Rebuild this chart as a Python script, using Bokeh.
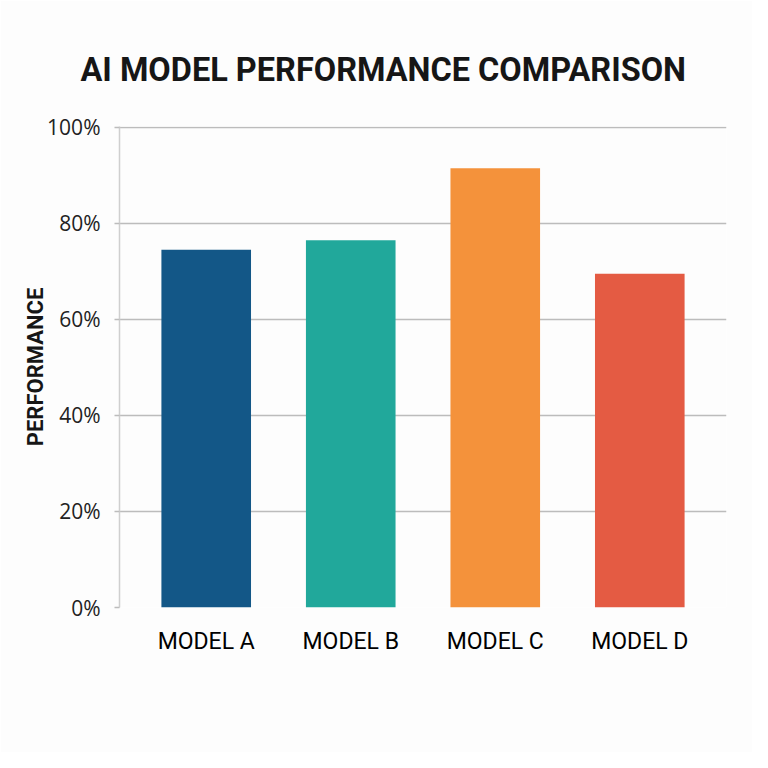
from bokeh.plotting import figure
from bokeh.models import FactorRange, Range1d, PrintfTickFormatter, FixedTicker
from bokeh.embed import file_html
from bokeh.resources import INLINE

# datos
modelos = ["MODEL A", "MODEL B", "MODEL C", "MODEL D"]
rendimiento = [74.5, 76.5, 91.5, 69.5]
colores = ["#135787", "#21a89b", "#f4923b", "#e45b43"]
ticks_y = [0, 20, 40, 60, 80, 100]

p = figure(x_range=FactorRange(*modelos, range_padding=0.05),
           y_range=Range1d(0, 100.2),
           width=752, height=752,
           title="AI MODEL PERFORMANCE COMPARISON",
           y_axis_label="PERFORMANCE",
           toolbar_location=None, output_backend="svg",
           min_border_left=119, min_border_right=26,
           min_border_top=126, min_border_bottom=145)

p.vbar(x=modelos, top=rendimiento, width=0.62, color=colores, line_color=None)

# fondo y marco
p.background_fill_color = "#fdfdfd"
p.border_fill_color = "#fdfdfd"
p.outline_line_color = None

# titulo
p.title.text_font = "Roboto"
p.title.text_font_size = "32.5px"
p.title.text_font_style = "bold"
p.title.text_color = "#161616"
p.title.align = "left"
p.title.offset = -39
p.title.standoff = 76

# rejilla
p.xgrid.grid_line_color = None
p.ygrid.grid_line_color = "#bcbcbc"
p.ygrid.grid_line_width = 1.5

# eje y
p.yaxis.ticker = FixedTicker(ticks=ticks_y)
p.yaxis.formatter = PrintfTickFormatter(format="%d%%")
p.yaxis.axis_line_color = "#cfcfcf"
p.yaxis.axis_line_width = 1.5
p.yaxis.major_tick_in = 0
p.yaxis.major_tick_out = 5
p.yaxis.major_tick_line_color = "#bcbcbc"
p.yaxis.major_tick_line_width = 1.5
p.yaxis.minor_tick_line_color = None
p.yaxis.major_label_standoff = 14
p.yaxis.major_label_text_font = "Open Sans"
p.yaxis.major_label_text_font_size = "21px"
p.yaxis.major_label_text_color = "#222222"
p.yaxis.axis_label_text_font = "Roboto"
p.yaxis.axis_label_text_font_size = "22px"
p.yaxis.axis_label_text_font_style = "bold"
p.yaxis.axis_label_text_color = "#161616"
p.yaxis.axis_label_standoff = -4

# eje x
p.xaxis.axis_line_color = None
p.xaxis.major_tick_line_color = None
p.xaxis.major_tick_out = 0
p.xaxis.major_label_standoff = 20
p.xaxis.major_label_text_font = "Roboto"
p.xaxis.major_label_text_font_size = "23px"
p.xaxis.major_label_text_color = "#000000"

open("out.html", "w").write(file_html(p, INLINE))
